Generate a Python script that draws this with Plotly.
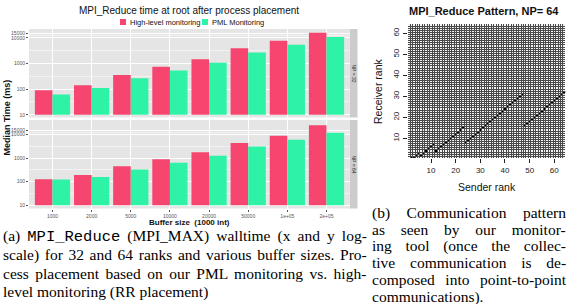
import plotly.graph_objects as go

# ---------------- data ----------------
buffer_labels = ["1000", "2000", "5000", "10000", "20000", "50000", "1e+05", "2e+05"]
np32_high = [90, 141, 355, 740, 1470, 3900, 7700, 15900]
np32_pml = [62, 110, 265, 530, 1070, 2700, 5400, 10700]
np64_high = [126, 190, 450, 890, 1780, 4400, 8900, 25000]
np64_pml = [122, 157, 330, 640, 1260, 3100, 6000, 12000]
y_tickvals = [10, 100, 1000, 10000, 15000]
y_ticktext = ["10", "100", "1000", "10000", "15000"]
y_minor = [31.6, 316, 3162, 12247]

ranks = list(range(1, 65))
senders = [2, 3, 4, 5, 6, 7, 8, 9, 10, 11,
           12, 13, 14, 15, 16, 17, 18, 19, 20, 21, 22, 23,
           24, 25, 26, 27, 28, 29, 30, 31, 32, 33, 34, 35, 36, 37, 38, 39, 40, 41, 42, 43, 44, 45, 46, 47,
           48, 49, 50, 51, 52, 53, 54, 55, 56, 57, 58, 59, 60, 61, 62, 63, 64]
receivers = [1, 1, 2, 3, 2, 3, 4, 5, 6, 7,
             4, 5, 6, 7, 8, 9, 10, 11, 12, 13, 14, 15,
             8, 9, 10, 11, 12, 13, 14, 15, 16, 17, 18, 19, 20, 21, 22, 23, 24, 25, 26, 27, 28, 29, 30, 31,
             16, 17, 18, 19, 20, 21, 22, 23, 24, 25, 26, 27, 28, 29, 30, 31, 32]
heat_ticks = [10, 20, 30, 40, 50, 60]

caption_a = ["(a) <span style=\"font-family:'Liberation Mono'\">MPI_Reduce</span> (MPI_MAX) walltime (x and y log-",
             "scale) for 32 and 64 ranks and various buffer sizes. Pro-",
             "cess placement based on our PML monitoring vs. high-",
             "level monitoring (RR placement)"]
caption_a_spacing = [3.2, 1.75, 2.6, 0]
caption_b = ["(b) Communication pattern",
             "as seen by our monitor-",
             "ing tool (once the collec-",
             "tive communication is de-",
             "composed into point-to-point",
             "communications)."]
caption_b_spacing = [12.6, 11.9, 9.75, 10.9, 6.6, 0]

# ---------------- style ----------------
W, H = 568, 304
RED = "#F6456E"
GREEN = "#2EF3A6"
PANEL = "#E5E5E5"
SANS = "Liberation Sans, Arial, sans-serif"
SERIF = "Liberation Serif, serif"


def fx(p):
    return p / W


def fy(p):
    return 1 - p / H


fig = go.Figure()

base_vals = 10
fig.add_bar(x=buffer_labels, y=[v - base_vals for v in np32_high], base=base_vals,
            marker=dict(color=RED, line=dict(width=0)), xaxis="x2", yaxis="y",
            offsetgroup="a", showlegend=False)
fig.add_bar(x=buffer_labels, y=[v - base_vals for v in np32_pml], base=base_vals,
            marker=dict(color=GREEN, line=dict(width=0)), xaxis="x2", yaxis="y",
            offsetgroup="b", showlegend=False)
fig.add_bar(x=buffer_labels, y=[v - base_vals for v in np64_high], base=base_vals,
            marker=dict(color=RED, line=dict(width=0)), xaxis="x", yaxis="y2",
            offsetgroup="a", showlegend=False)
fig.add_bar(x=buffer_labels, y=[v - base_vals for v in np64_pml], base=base_vals,
            marker=dict(color=GREEN, line=dict(width=0)), xaxis="x", yaxis="y2",
            offsetgroup="b", showlegend=False)

z = [[0] * len(ranks) for _ in ranks]
for s, r in zip(senders, receivers):
    z[r - 1][s - 1] = 1
fig.add_heatmap(x=ranks, y=ranks, z=z, xaxis="x3", yaxis="y3",
                colorscale=[[0, "#f4f4f4"], [1, "#000000"]], showscale=False,
                zmin=0, zmax=1)
# empty overlay subplot whose gridlines draw the dark cell grid above the heatmap
fig.add_scatter(x=[], y=[], xaxis="x4", yaxis="y4", showlegend=False, hoverinfo="skip")

bar_dom_x = [fx(29), fx(350)]
top_dom = [fy(117.5), fy(29)]
bot_dom = [fy(208.5), fy(120)]
heat_dom_x = [fx(407.6), fx(565.4)]
heat_dom_y = [fy(158.3), fy(23.9)]

common_x = dict(type="category", range=[-0.6, 7.6], showgrid=True, gridcolor="white",
                gridwidth=1.1, zeroline=False, showline=False, domain=bar_dom_x)
common_y = dict(type="log", tickvals=y_tickvals, ticktext=y_ticktext, showgrid=True,
                gridcolor="white", gridwidth=1.1, zeroline=False, showline=False,
                ticks="outside", ticklen=2, tickcolor="#555", tickwidth=0.6,
                tickfont=dict(size=5, color="#555", family=SANS),
                minor=dict(tickvals=y_minor, showgrid=True, gridcolor="#F2F2F2", gridwidth=0.5))
grid_axis = dict(range=[0.5, 64.5], tickmode="linear", tick0=0.5, dtick=1, showgrid=True,
                 gridcolor="#4a4a4a", gridwidth=1, showticklabels=False,
                 ticks="", zeroline=False, showline=False)

fig.update_layout(
    width=W, height=H, margin=dict(l=0, r=0, t=0, b=0),
    paper_bgcolor="white", plot_bgcolor="rgba(0,0,0,0)",
    barmode="group", bargap=0.1, bargroupgap=0,
    showlegend=False,
    xaxis=dict(common_x, anchor="y2", ticks="outside", ticklen=2, tickcolor="#555", tickwidth=0.6,
               tickfont=dict(size=5, color="#555", family=SANS)),
    xaxis2=dict(common_x, anchor="y", matches="x", showticklabels=False, ticks=""),
    yaxis=dict(common_y, domain=top_dom, anchor="x2", range=[0.894, 4.345]),
    yaxis2=dict(common_y, domain=bot_dom, anchor="x", range=[0.861, 4.616]),
    xaxis3=dict(domain=heat_dom_x, anchor="y3", range=[0.5, 64.5],
                tickvals=heat_ticks, ticks="outside", ticklen=4, tickcolor="#222",
                tickfont=dict(size=8, color="#222", family=SANS), showgrid=False,
                zeroline=False, showline=False),
    yaxis3=dict(domain=heat_dom_y, anchor="x3", range=[0.5, 64.5],
                tickvals=heat_ticks, ticks="outside", ticklen=4, tickcolor="#222", tickangle=-90,
                tickfont=dict(size=8, color="#222", family=SANS), showgrid=False,
                zeroline=False, showline=False),
    xaxis4=dict(grid_axis, domain=heat_dom_x, anchor="y4"),
    yaxis4=dict(grid_axis, domain=heat_dom_y, anchor="x4"),
)

shapes = [
    # ggplot panel backgrounds
    dict(type="rect", xref="paper", yref="paper", x0=bar_dom_x[0], x1=bar_dom_x[1], y0=top_dom[0], y1=top_dom[1],
         fillcolor=PANEL, line=dict(width=0), layer="below"),
    dict(type="rect", xref="paper", yref="paper", x0=bar_dom_x[0], x1=bar_dom_x[1], y0=bot_dom[0], y1=bot_dom[1],
         fillcolor=PANEL, line=dict(width=0), layer="below"),
    # facet strips
    dict(type="rect", xref="paper", yref="paper", x0=fx(350), x1=fx(357.5), y0=top_dom[0], y1=top_dom[1],
         fillcolor="#CCCCCC", line=dict(width=0)),
    dict(type="rect", xref="paper", yref="paper", x0=fx(350), x1=fx(357.5), y0=bot_dom[0], y1=bot_dom[1],
         fillcolor="#CCCCCC", line=dict(width=0)),
    # legend keys
    dict(type="rect", xref="paper", yref="paper", x0=fx(120), x1=fx(126), y0=fy(25), y1=fy(19),
         fillcolor=RED, line=dict(width=0)),
    dict(type="rect", xref="paper", yref="paper", x0=fx(202), x1=fx(208), y0=fy(25), y1=fy(19),
         fillcolor=GREEN, line=dict(width=0)),
]

ann = [
    dict(text="MPI_Reduce time at root after process placement", x=fx(189), y=fy(10),
         font=dict(size=10, family=SANS, color="#111")),
    dict(text="High-level monitoring", x=fx(127.5), y=fy(22), xanchor="left",
         font=dict(size=7.5, family=SANS, color="#111")),
    dict(text="PML Monitoring", x=fx(209.5), y=fy(22), xanchor="left",
         font=dict(size=7.5, family=SANS, color="#111")),
    dict(text="<b>Median Time (ms)</b>", x=fx(6.5), y=fy(118), textangle=-90,
         font=dict(size=9, family=SANS, color="#111")),
    dict(text="<b>Buffer size  (1000 int)</b>", x=fx(189), y=fy(222),
         font=dict(size=8, family=SANS, color="#111")),
    dict(text="NP = 32", x=fx(353.8), y=(top_dom[0] + top_dom[1]) / 2, textangle=90,
         font=dict(size=5, family=SANS, color="#333")),
    dict(text="NP = 64", x=fx(353.8), y=(bot_dom[0] + bot_dom[1]) / 2, textangle=90,
         font=dict(size=5, family=SANS, color="#333")),
    dict(text="<b>MPI_Reduce Pattern, NP= 64</b>", x=fx(484), y=fy(11),
         font=dict(size=11, family=SANS, color="#111")),
    dict(text="Receiver rank", x=fx(378), y=fy(91), textangle=-90,
         font=dict(size=10.5, family=SANS, color="#111")),
    dict(text="Sender rank", x=fx(487), y=fy(187),
         font=dict(size=10.5, family=SANS, color="#111")),
]
for i, line in enumerate(caption_a):
    ann.append(dict(text=f'<span style="word-spacing:{caption_a_spacing[i]}px">{line}</span>',
                    x=fx(0.5), y=fy(236 + i * 18.6), xanchor="left",
                    font=dict(size=15.5, family=SERIF, color="#000")))
for i, line in enumerate(caption_b):
    ann.append(dict(text=f'<span style="word-spacing:{caption_b_spacing[i]}px">{line}</span>',
                    x=fx(369.5), y=fy(212.5 + i * 16.8), xanchor="left",
                    font=dict(size=15.5, family=SERIF, color="#000")))
for a in ann:
    a.setdefault("xref", "paper")
    a.setdefault("yref", "paper")
    a.setdefault("showarrow", False)
    a.setdefault("xanchor", "center")
    a.setdefault("yanchor", "middle")

fig.update_layout(shapes=shapes, annotations=ann)
fig.write_html("out.html", config={"displayModeBar": False},
               post_script="document.body.style.margin='0';")
